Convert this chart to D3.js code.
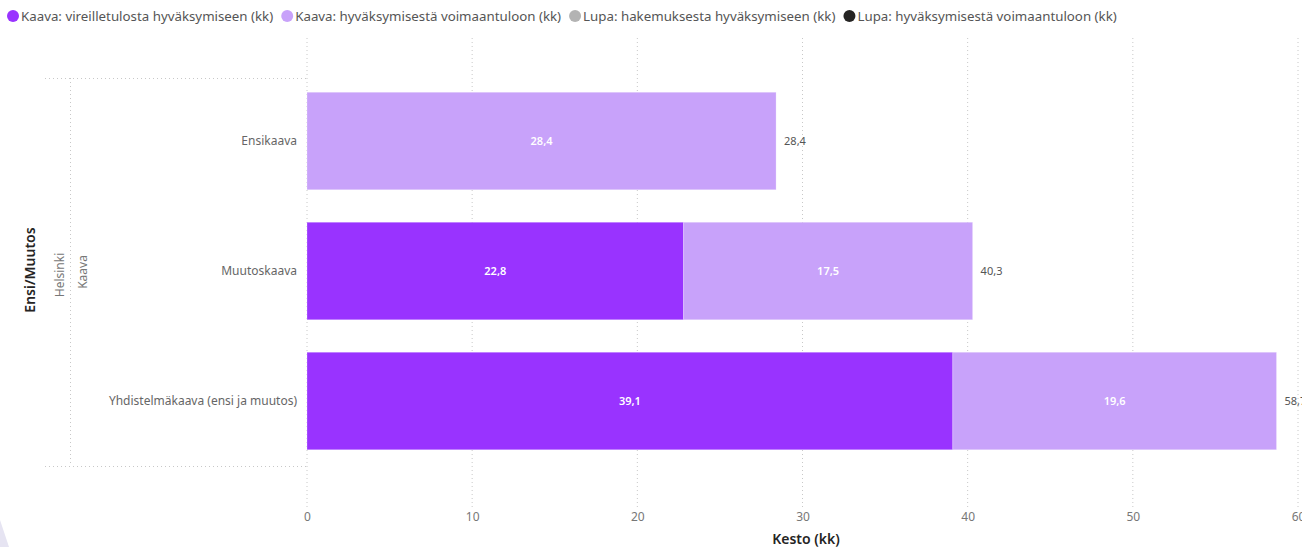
<!DOCTYPE html>
<html>
<head>
<meta charset="utf-8">
<script src="https://cdn.jsdelivr.net/npm/d3@7"></script>
<style>
  html, body { margin: 0; padding: 0; background: #fff; }
  svg { display: block; font-family: "Noto Sans", "Open Sans", sans-serif; }
</style>
</head>
<body>
<svg id="chart" width="1302" height="547"></svg>
<script>
// ---- data ----
const categories = ["Ensikaava", "Muutoskaava", "Yhdistelmäkaava (ensi ja muutos)"];
const seriesNames = [
  "Kaava: vireilletulosta hyväksymiseen (kk)",
  "Kaava: hyväksymisestä voimaantuloon (kk)",
  "Lupa: hakemuksesta hyväksymiseen (kk)",
  "Lupa: hyväksymisestä voimaantuloon (kk)"
];
const seriesColors = ["#9933FF", "#C8A2FA", "#B3B3B3", "#252423"];
const kaavaVireille = [null, 22.8, 39.1];
const kaavaVoimaan = [28.4, 17.5, 19.6];
const lupaHakemus = [null, null, null];
const lupaVoimaan = [null, null, null];
const xTicks = [0, 10, 20, 30, 40, 50, 60];
const hierarchyLabels = ["Helsinki", "Kaava"];
const yTitle = "Ensi/Muutos";
const xTitle = "Kesto (kk)";

const seriesValues = [kaavaVireille, kaavaVoimaan, lupaHakemus, lupaVoimaan];
const fmt = v => d3.format(".1f")(v).replace(".", ",");

const svg = d3.select("#chart");

// decorative corner
svg.append("path").attr("d", "M0,520 L0,547 L9,547 Z").attr("fill", "#e6e4f2");

// ---- scales ----
const x = d3.scaleLinear().domain([0, 60]).range([307, 1298]);
const y = d3.scaleBand().domain(categories).range([76, 466]).paddingInner(0.25).paddingOuter(0.125);

// ---- gridlines ----
svg.append("g").selectAll("line").data(xTicks).join("line")
  .attr("x1", d => x(d)).attr("x2", d => x(d))
  .attr("y1", 38).attr("y2", 508)
  .attr("stroke", "#c8c8c8").attr("stroke-dasharray", "1,3");

// hierarchy separators
const sep = svg.append("g").attr("stroke", "#c8c8c8").attr("stroke-dasharray", "1,3");
sep.append("line").attr("x1", 45).attr("x2", 307).attr("y1", 78.5).attr("y2", 78.5);
sep.append("line").attr("x1", 45).attr("x2", 307).attr("y1", 466.5).attr("y2", 466.5);
sep.append("line").attr("x1", 70.5).attr("x2", 70.5).attr("y1", 78).attr("y2", 466);

// ---- stacked data ----
const rows = categories.map((c, i) => {
  const r = { cat: c };
  seriesNames.forEach((s, j) => r[s] = seriesValues[j][i] || 0);
  return r;
});
const stacked = d3.stack().keys(seriesNames)(rows);

const gBars = svg.append("g");
stacked.forEach((layer, j) => {
  const g = gBars.append("g").attr("fill", seriesColors[j]);
  layer.forEach(d => {
    const w = x(d[1]) - x(d[0]);
    if (w <= 0) return;
    g.append("rect")
      .attr("x", x(d[0])).attr("y", y(d.data.cat))
      .attr("width", w).attr("height", y.bandwidth())
      .attr("stroke", "#ffffff").attr("stroke-opacity", 0.25).attr("stroke-width", 1);
    svg.append("text")
      .attr("x", (x(d[0]) + x(d[1])) / 2).attr("y", y(d.data.cat) + y.bandwidth() / 2)
      .attr("dy", "0.35em").attr("text-anchor", "middle")
      .attr("fill", "#ffffff").attr("font-size", 11).attr("font-weight", 600)
      .text(fmt(d[1] - d[0]));
  });
});

// totals
rows.forEach(r => {
  const total = d3.sum(seriesNames, s => r[s]);
  svg.append("text")
    .attr("x", x(total) + 8).attr("y", y(r.cat) + y.bandwidth() / 2)
    .attr("dy", "0.35em").attr("fill", "#555").attr("font-size", 11)
    .text(fmt(total));
});

// ---- y axis (category labels) ----
const yAxis = d3.axisLeft(y).tickSize(0).tickPadding(10);
const gy = svg.append("g").attr("transform", "translate(307,0)").call(yAxis);
gy.attr("font-family", null).attr("font-size", null);
gy.select(".domain").remove();
gy.selectAll("text").attr("fill", "#666").attr("font-size", 12);

// ---- x axis ----
const xAxis = d3.axisBottom(x).tickValues(xTicks).tickSize(0).tickPadding(0);
const gx = svg.append("g").attr("transform", "translate(0,512)").call(xAxis);
gx.attr("font-family", null).attr("font-size", null);
gx.select(".domain").remove();
gx.selectAll("text").attr("fill", "#777").attr("font-size", 12);

// titles
svg.append("text").attr("x", 806).attr("y", 544).attr("text-anchor", "middle")
  .attr("fill", "#252423").attr("font-size", 14).attr("font-weight", 600).text(xTitle);
svg.append("text").attr("transform", "translate(35,270) rotate(-90)").attr("text-anchor", "middle")
  .attr("fill", "#252423").attr("font-size", 14).attr("font-weight", 600).text(yTitle);
svg.append("text").attr("transform", "translate(64,275) rotate(-90)").attr("text-anchor", "middle")
  .attr("fill", "#777").attr("font-size", 12).text(hierarchyLabels[0]);
svg.append("text").attr("transform", "translate(87,272) rotate(-90)").attr("text-anchor", "middle")
  .attr("fill", "#777").attr("font-size", 12).text(hierarchyLabels[1]);

// ---- legend ----
const legend = svg.append("g");
let lx = 7;
seriesNames.forEach((s, j) => {
  legend.append("circle").attr("cx", lx + 6).attr("cy", 16).attr("r", 6).attr("fill", seriesColors[j]);
  const t = legend.append("text").attr("x", lx + 14).attr("y", 16).attr("dy", "0.35em")
    .attr("fill", "#555").attr("font-size", 13.3).text(s);
  lx += 14 + t.node().getComputedTextLength() + 8;
});
</script>
</body>
</html>
